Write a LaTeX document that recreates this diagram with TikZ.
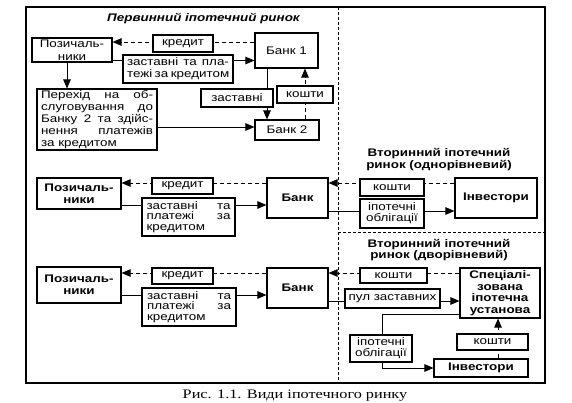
\documentclass[tikz,border=0pt]{standalone}
\usepackage{fontspec}
\setmainfont{Liberation Sans}[FakeStretch=1.22]
\newfontfamily\capfont{Liberation Serif}[FakeStretch=1.25]
\usetikzlibrary{arrows.meta,calc}
\newcommand\JL[2]{\makebox[#1][s]{#2}}
\begin{document}
\begin{tikzpicture}[x=1pt,y=-1pt,
  font=\fontsize{11}{13}\selectfont,
  box/.style={draw,line width=1.1pt,fill=white,inner sep=0pt,align=center},
  bb/.style={box,font=\fontsize{11}{12}\selectfont\bfseries},
  arr/.style={line width=1pt,-{Triangle[length=9pt,width=7.5pt]}},
  dsh/.style={arr,dash pattern=on 4pt off 3pt},
  sep/.style={line width=1pt,dash pattern=on 3pt off 2pt},
  ttl/.style={font=\fontsize{11}{11.5}\selectfont\bfseries,align=center}]
\useasboundingbox (0,0) rectangle (572,402);
% frame and separators
\draw[line width=1.1pt] (26,7) rectangle (545,383);
\draw[sep] (338,7) -- (338,383);
\draw[sep] (338,232) -- (545,232);
% titles
\node[font=\fontsize{11}{13}\selectfont\bfseries\itshape] (t1) at (203.5,19) {Первинний іпотечний ринок};
\node[ttl] (t2) at (439,159.5) {Вторинний іпотечний\\ринок (однорівневий)};
\node[ttl] (t3) at (439,250) {Вторинний іпотечний\\ринок (дворівневий)};
\node[font=\capfont\fontsize{13}{15}\selectfont] (cap) at (295,396) {Рис. 1.1. Види іпотечного ринку};
% ---------- primary market
\node[box,minimum width=80pt,minimum height=24pt] (p1) at (72,50) {Позичаль-\\ники};
\node[box,minimum width=63pt,minimum height=35pt] (b1) at (286.5,50.5) {Банк 1};
\node[box,minimum width=120pt,minimum height=61pt,align=left,font=\fontsize{11}{12}\selectfont] (per) at (97,119.5)
  {\JL{112pt}{Перехід на об-}\\\JL{112pt}{слуговування до}\\\JL{112pt}{Банку 2 та здійс-}\\\JL{112pt}{нення платежів}\\за кредитом};
\node[box,minimum width=64pt,minimum height=20pt] (b2) at (287,130) {Банк 2};
% ---------- one-level
\node[bb,minimum width=84pt,minimum height=31pt] (p2) at (79,193.5) {Позичаль-\\ники};
\node[bb,minimum width=61pt,minimum height=40pt] (bk2) at (297.5,198) {Банк};
\node[bb,minimum width=82pt,minimum height=40pt] (inv2) at (496,198) {Інвестори};
% ---------- two-level
\node[bb,minimum width=84pt,minimum height=36pt] (p3) at (79,285) {Позичаль-\\ники};
\node[bb,minimum width=61pt,minimum height=40pt] (bk3) at (297.5,288) {Банк};
\node[bb,minimum width=80pt,minimum height=50pt,font=\fontsize{11}{11.5}\selectfont\bfseries] (spec) at (500,293) {Спеціалі-\\зована\\іпотечна\\установа};
\node[bb,minimum width=94pt,minimum height=18pt] (inv3) at (481,368) {Інвестори};
% ---------- connectors
\draw[dsh] ([yshift=8.5pt]b1.west) -- ([yshift=8.5pt]b1.west -| p1.east);
\draw[arr] ([yshift=-10.5pt]p1.east) -- ([yshift=-10.5pt]p1.east -| b1.west);
\draw[arr] ([xshift=-5pt]p1.south) -- ([xshift=-5pt]p1.south |- per.north);
\draw[arr] ([yshift=-7.5pt]per.east) -- ([yshift=-7.5pt]per.east -| b2.west);
\draw[arr] ([xshift=-19.5pt]b1.south) -- ([xshift=-19.5pt]b1.south |- b2.north);
\draw[dsh] ([xshift=18pt]b2.north) -- ([xshift=18pt]b2.north |- b1.south);
\draw[dsh] ([yshift=15pt]bk2.west) -- ([yshift=15pt]bk2.west -| p2.east);
\draw[arr] ([yshift=-11.5pt]p2.east) -- ([yshift=-11.5pt]p2.east -| bk2.west);
\draw[dsh] ([yshift=15pt]inv2.west) -- ([yshift=15pt]inv2.west -| bk2.east);
\draw[arr] ([yshift=-13pt]bk2.east) -- ([yshift=-13pt]bk2.east -| inv2.west);
\draw[dsh] ([yshift=15pt]bk3.west) -- ([yshift=15pt]bk3.west -| p3.east);
\draw[arr] ([yshift=-10pt]p3.east) -- ([yshift=-10pt]p3.east -| bk3.west);
\draw[dsh] ([yshift=20pt]spec.west) -- ([yshift=20pt]spec.west -| bk3.east);
\draw[arr] ([yshift=-13pt]bk3.east) -- ([yshift=-13pt]bk3.east -| spec.west);
\draw[dsh] ([xshift=17pt]inv3.north) -- ([xshift=17pt]inv3.north |- spec.south);
\draw[arr] ([yshift=-21pt]spec.west) -- ++(-77,0) |- (inv3.west);
% ---------- label boxes
\node[box,minimum width=60pt,minimum height=17pt] (kr1) at (183,43.5) {кредит};
\node[box,minimum width=110pt,minimum height=28pt,align=left,font=\fontsize{11}{12}\selectfont] (z1) at (178,69) {\JL{102pt}{заставні та пла-}\\\JL{102pt}{тежі за кредитом}};
\node[box,minimum width=72pt,minimum height=18pt] (zs1) at (237,98) {заставні};
\node[box,minimum width=56pt,minimum height=17pt] (ks1) at (305,94.5) {кошти};
\node[box,minimum width=61pt,minimum height=16pt] (kr2) at (182.5,186) {кредит};
\node[box,minimum width=93pt,minimum height=38pt,align=left,font=\fontsize{11}{10.5}\selectfont] (z2) at (188.5,217) {\JL{84pt}{заставні та}\\\JL{84pt}{платежі за}\\кредитом};
\node[box,minimum width=64pt,minimum height=17pt] (ks2) at (392,187.5) {кошти};
\node[box,minimum width=64pt,minimum height=29pt,font=\fontsize{11}{11}\selectfont] (ob2) at (392,213.5) {іпотечні\\облігації};
\node[box,minimum width=61pt,minimum height=16pt] (kr3) at (182.5,276) {кредит};
\node[box,minimum width=94pt,minimum height=38pt,align=left,font=\fontsize{11}{10.5}\selectfont] (z3) at (189,307) {\JL{84pt}{заставні та}\\\JL{84pt}{платежі за}\\кредитом};
\node[box,minimum width=67pt,minimum height=15pt] (ks3) at (393.5,275.5) {кошти};
\node[box,minimum width=95pt,minimum height=19pt] (pul) at (392.5,298.5) {пул заставних};
\node[box,minimum width=71pt,minimum height=16pt] (ks4) at (492.5,342) {кошти};
\node[box,minimum width=62pt,minimum height=27pt,font=\fontsize{11}{11}\selectfont] (ob3) at (381,348.5) {іпотечні\\облігації};
\end{tikzpicture}
\end{document}
